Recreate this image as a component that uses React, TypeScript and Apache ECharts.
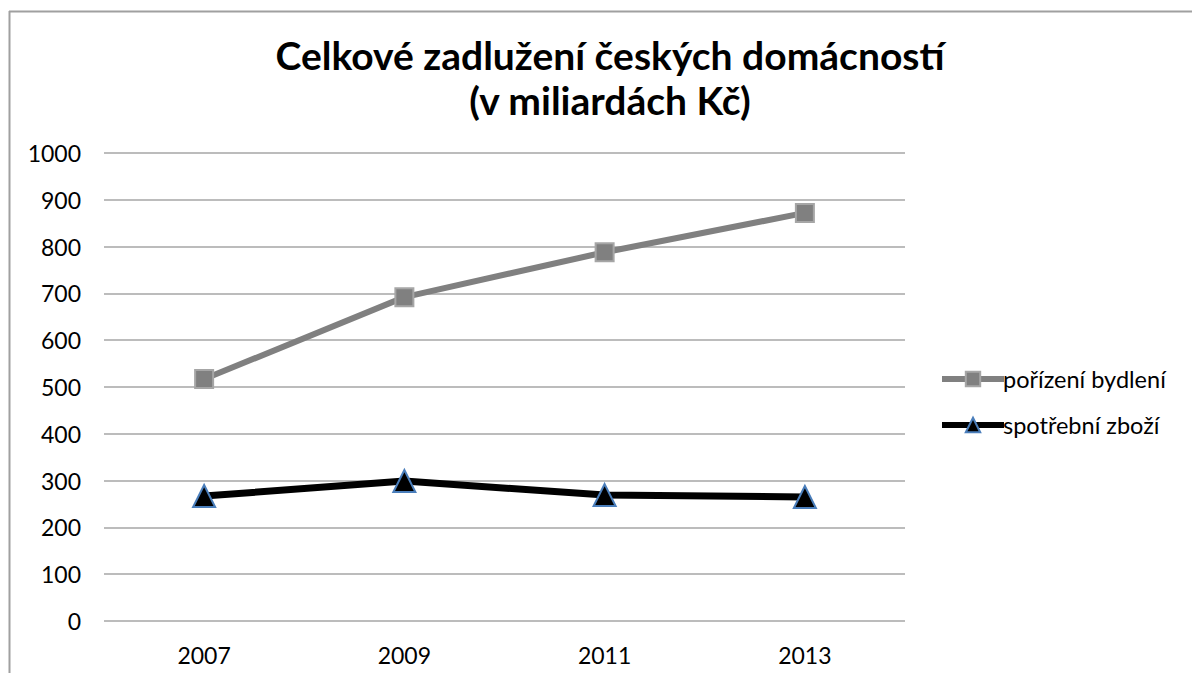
import React, { useEffect, useRef } from "react";
import * as echarts from "echarts";

const categories = ["2007", "2009", "2011", "2013"];
const bydleni = [517, 692, 788, 872];
const zbozi = [267, 299, 269, 265];
const seriesNames = ["pořízení bydlení", "spotřební zboží"];
const titleText = "Celkové zadlužení českých domácností\n(v miliardách Kč)";

const FONT = "Lato";

export default function App() {
  const ref = useRef<HTMLDivElement>(null);
  useEffect(() => {
    const chart = echarts.init(ref.current!, null, { renderer: "svg" });
    chart.setOption({
      animation: false,
      backgroundColor: "#ffffff",
      title: {
        text: titleText,
        left: 605,
        textAlign: "center",
        top: 27,
        textStyle: {
          fontFamily: FONT,
          fontWeight: "bold",
          fontSize: 39,
          lineHeight: 45,
          color: "#000",
        },
      },
      graphic: [
        { type: "line", shape: { x1: 9.5, y1: 11, x2: 9.5, y2: 673 }, style: { stroke: "#a0a0a0", lineWidth: 2 } },
        { type: "line", shape: { x1: 9, y1: 11.5, x2: 1192, y2: 11.5 }, style: { stroke: "#a0a0a0", lineWidth: 2 } },
      ],
      grid: { left: 104, right: 287, top: 153, bottom: 52, containLabel: false },
      legend: {
        orient: "vertical",
        left: 934,
        top: 362,
        itemGap: 22,
        itemWidth: 62,
        itemHeight: 18,
        data: [
          { name: seriesNames[0], lineStyle: { width: 6, color: "#808080" } },
          { name: seriesNames[1], lineStyle: { width: 6, color: "#000" } },
        ],
        textStyle: { fontFamily: FONT, fontSize: 23.5, color: "#000", padding: [0, 0, 0, -6] },
      },
      xAxis: {
        type: "category",
        data: categories,
        boundaryGap: true,
        axisLine: { show: false },
        axisTick: { show: false },
        axisLabel: { fontFamily: FONT, fontSize: 23, color: "#000", margin: 22 },
      },
      yAxis: {
        type: "value",
        min: 0,
        max: 1000,
        interval: 100,
        axisLine: { show: false },
        axisTick: { show: false },
        splitLine: { lineStyle: { color: "#a6a6a6", width: 1.5 } },
        axisLabel: {
          fontFamily: FONT,
          fontSize: 23,
          color: "#000",
          margin: 23,
          formatter: (v: number) => String(v),
        },
      },
      series: [
        {
          name: seriesNames[0],
          type: "line",
          data: bydleni,
          symbol: "rect",
          symbolSize: 18,
          lineStyle: { color: "#808080", width: 6 },
          itemStyle: { color: "#808080", borderColor: "#a6a6a6", borderWidth: 2 },
        },
        {
          name: seriesNames[1],
          type: "line",
          data: zbozi,
          symbol: "triangle",
          symbolSize: 22,
          lineStyle: { color: "#000000", width: 7 },
          itemStyle: { color: "#000000", borderColor: "#4a7ebb", borderWidth: 2 },
        },
      ],
    });
    return () => chart.dispose();
  }, []);
  return (
    <div
      ref={ref}
      style={{ position: "fixed", left: 0, top: 0, width: 1192, height: 673 }}
    />
  );
}
